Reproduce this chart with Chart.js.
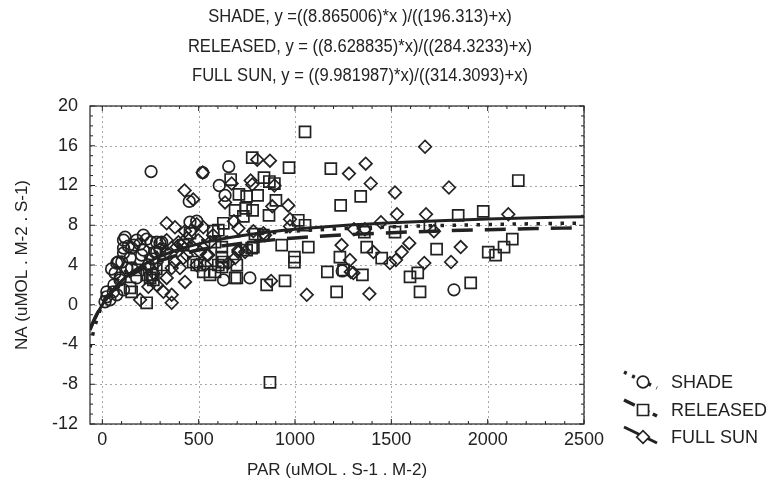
<!DOCTYPE html>
<html>
<head>
<meta charset="utf-8">
<script src="https://cdn.jsdelivr.net/npm/chart.js@4"></script>
<style>
html,body{margin:0;padding:0;background:#fff;}
#c{display:block;}
</style>
</head>
<body>
<canvas id="c" width="768" height="485"></canvas>
<script>
// ---- data ----
const titleLines = [
  'SHADE, y =((8.865006)*x )/((196.313)+x)',
  'RELEASED, y = ((8.628835)*x)/((284.3233)+x)',
  'FULL SUN, y = ((9.981987)*x)/((314.3093)+x)'
];
const xAxisTitle = 'PAR (uMOL . S-1 . M-2)';
const yAxisTitle = 'NA (uMOL . M-2 . S-1)';
const seriesNames = ['SHADE', 'RELEASED', 'FULL SUN'];
const xTicks = [0, 500, 1000, 1500, 2000, 2500];
const yTicks = [-12, -8, -4, 0, 4, 8, 12, 16, 20];

const shadeX = [253,521,656,607,451,637,766,629,1245,1825,110,178,213,253,282,299,118,490,75,144,152,110,213,83,152,92,178,204,239,23,40,14,57,75,110,273,299,23,66,92,127,101,308,282,110,455,165,195,135,60,48,230,260];
const shadeY = [13.4,13.3,13.9,12.0,10.4,11.0,2.7,2.5,3.4,1.5,6.5,6.5,7.0,6.3,6.3,6.2,6.8,8.4,4.2,4.7,5.7,5.2,5.5,4.3,3.7,2.7,2.7,5.0,4.0,0.8,0.5,0.3,1.3,1.0,1.5,5.3,5.5,1.3,3.2,2.5,3.7,4.3,6.3,5.3,5.7,8.3,6.0,6.1,5.9,2.0,3.6,6.6,4.6];

const releasedX = [1052,778,969,1186,1341,1237,666,839,867,893,709,749,806,901,689,744,780,865,732,628,1017,1052,792,585,620,931,1069,775,997,997,620,620,698,689,853,948,1168,1350,1216,1233,1372,1360,2159,1847,1977,1519,1700,1450,1735,1597,1637,1649,1912,2003,2041,2085,2128,870,1252,152,230,248,256,317,490,524,585,602,230,265,144,602,576,472,507,628,559,698,749,784,836,185,280,420,455];
const releasedY = [17.4,14.8,13.8,13.7,10.9,10.0,12.6,12.8,12.4,12.2,11.1,10.9,11.0,10.5,9.5,9.7,9.5,9.0,8.9,8.2,8.5,8.0,7.1,6.3,5.8,6.0,5.8,5.7,4.8,4.3,4.8,3.8,4.0,2.7,2.0,2.4,3.3,3.0,1.3,4.8,5.8,7.3,12.5,9.0,9.4,7.3,7.9,4.7,5.6,2.8,3.2,1.3,2.2,5.3,5.0,5.8,6.6,-7.8,3.5,1.3,0.2,2.7,3.0,4.0,4.0,3.3,3.3,4.0,3.0,2.5,1.7,7.5,7.4,4.3,4.0,4.3,3.0,2.7,5.5,5.8,7.0,3.5,3.6,6.0,7.2];

const fullSunX = [804,870,1280,1367,1393,427,472,521,671,770,778,893,637,882,965,683,706,974,844,706,741,689,654,876,1061,1242,1285,1303,1386,1306,1363,1446,1407,1493,1524,1554,1593,1675,1519,1799,1529,1680,2107,1721,1860,1810,1671,334,377,429,490,524,464,334,395,438,498,559,196,239,282,317,360,360,334,360,403,429,377,438,490,542,533,282,334,386,420,507,550,706,784,836,974,1290,300,265,410,575];
const fullSunY = [14.6,14.5,13.2,14.2,12.2,11.5,10.6,13.3,12.2,12.5,12.1,12.0,10.3,9.9,10.0,8.4,7.7,8.6,7.0,5.3,5.3,4.7,4.2,2.4,1.0,6.0,4.5,3.2,1.1,7.6,7.6,8.3,5.3,4.2,4.5,5.3,6.2,15.9,11.3,11.8,9.1,9.1,9.1,7.4,5.8,4.3,4.2,8.2,7.8,7.4,8.1,7.8,7.5,6.5,6.3,6.7,6.5,6.3,0.5,1.8,2.0,1.3,1.0,0.2,2.7,3.7,3.7,2.3,4.3,5.0,4.0,5.0,4.0,4.3,5.3,5.8,4.7,5.3,5.0,5.5,7.4,7.2,7.9,3.3,5.6,3.2,6.0,7.0];

// fitted curves, values read at these PAR positions
const curveX = [-64,-50,-40,-30,-20,-10,0,10,25,50,75,100,150,200,250,300,400,500,600,800,1000,1250,1500,1750,2000,2250,2500];
const shadeFit = [-4.288,-3.030,-2.269,-1.599,-1.006,-0.476,0,0.430,1.001,1.800,2.451,2.992,3.840,4.474,4.966,5.359,5.947,6.366,6.680,7.118,7.410,7.662,7.839,7.971,8.073,8.154,8.220];
const releasedFit = [-2.507,-1.841,-1.413,-1.018,-0.653,-0.315,0,0.293,0.697,1.291,1.801,2.245,2.980,3.563,4.037,4.430,5.044,5.501,5.855,6.366,6.719,7.030,7.254,7.423,7.555,7.661,7.748];
const fullSunFit = [-2.552,-1.888,-1.456,-1.053,-0.678,-0.328,0,0.308,0.735,1.370,1.923,2.409,3.225,3.882,4.422,4.875,5.590,6.129,6.551,7.166,7.595,7.976,8.253,8.462,8.626,8.758,8.867];

const INK = '#222';
const FONT = "'Liberation Sans', Arial, sans-serif";
const pts = (xs, ys) => xs.map((x, i) => ({x, y: ys[i]}));

const markerStyles = [
  {pointStyle: 'circle', pointRadius: 5.8},
  {pointStyle: 'rect', pointRadius: 7.8},
  {pointStyle: 'rectRot', pointRadius: 6.3}
];
const lineStyles = [
  {borderDash: [3.5, 8.5], borderWidth: 3.5},
  {borderDash: [21, 12], borderWidth: 3.5},
  {borderDash: [], borderWidth: 3}
];

function scatterSet(data, k) {
  return {
    type: 'scatter', data, order: 2,
    pointStyle: markerStyles[k].pointStyle,
    pointRadius: markerStyles[k].pointRadius,
    pointHoverRadius: markerStyles[k].pointRadius,
    pointBorderColor: INK, pointBackgroundColor: 'rgba(0,0,0,0)',
    pointBorderWidth: 1.7, showLine: false
  };
}
function curveSet(data, k) {
  return {
    type: 'line', data, order: 1,
    borderColor: INK, borderWidth: lineStyles[k].borderWidth,
    borderDash: lineStyles[k].borderDash, borderCapStyle: 'butt',
    pointRadius: 0, fill: false, cubicInterpolationMode: 'monotone'
  };
}

function condensedText(ctx, text, x, y, sx) {
  ctx.save();
  ctx.translate(x, y);
  ctx.scale(sx, 1);
  ctx.fillText(text, 0, 0);
  ctx.restore();
}

const decor = {
  id: 'decor',
  beforeDatasetsDraw(chart) {
    const {ctx, chartArea: a, scales: {x, y}} = chart;
    ctx.save();
    ctx.strokeStyle = '#a8a8a8';
    ctx.lineWidth = 1;
    ctx.setLineDash([2, 3]);
    xTicks.forEach(v => {
      const px = Math.round(x.getPixelForValue(v)) + 0.5;
      ctx.beginPath(); ctx.moveTo(px, a.top); ctx.lineTo(px, a.bottom); ctx.stroke();
    });
    yTicks.forEach(v => {
      const py = Math.round(y.getPixelForValue(v)) + 0.5;
      ctx.beginPath(); ctx.moveTo(a.left, py); ctx.lineTo(a.right, py); ctx.stroke();
    });
    ctx.restore();
  },
  afterDatasetsDraw(chart) {
    const {ctx, chartArea: a, scales: {x, y}} = chart;
    ctx.save();
    ctx.strokeStyle = INK;
    ctx.lineWidth = 1.2;
    ctx.strokeRect(a.left, a.top, a.right - a.left, a.bottom - a.top);
    ctx.lineWidth = 1;
    for (let v = 0; v <= 2500; v += 100) {
      const px = x.getPixelForValue(v);
      const len = v % 500 === 0 ? 5 : 3;
      ctx.beginPath();
      ctx.moveTo(px, a.bottom); ctx.lineTo(px, a.bottom - len);
      ctx.moveTo(px, a.top); ctx.lineTo(px, a.top + len);
      ctx.stroke();
    }
    for (let v = -12; v <= 20; v += 1) {
      const py = y.getPixelForValue(v);
      const len = v % 4 === 0 ? 5 : 3;
      ctx.beginPath();
      ctx.moveTo(a.left, py); ctx.lineTo(a.left + len, py);
      ctx.moveTo(a.right, py); ctx.lineTo(a.right - len, py);
      ctx.stroke();
    }
    ctx.restore();
  },
  afterDraw(chart) {
    const {ctx, chartArea: a} = chart;
    ctx.save();
    ctx.fillStyle = INK;
    ctx.textBaseline = 'middle';
    ctx.textAlign = 'center';
    ctx.font = '18px ' + FONT;
    const ty = [17, 47, 76];
    titleLines.forEach((t, i) => condensedText(ctx, t, 360, ty[i], 0.92));
    ctx.font = '17px ' + FONT;
    ctx.fillText(xAxisTitle, (a.left + a.right) / 2, 470);
    ctx.save();
    ctx.translate(22, (a.top + a.bottom) / 2);
    ctx.rotate(-Math.PI / 2);
    ctx.fillText(yAxisTitle, 0, 0);
    ctx.restore();
    // legend
    const rows = [382, 410, 437];
    ctx.textAlign = 'left';
    ctx.font = '18px ' + FONT;
    rows.forEach((ry, k) => {
      ctx.save();
      ctx.strokeStyle = INK;
      ctx.lineWidth = lineStyles[k].borderWidth;
      ctx.setLineDash(k === 0 ? [3, 6] : (k === 1 ? [12, 4] : []));
      ctx.lineCap = 'butt';
      ctx.beginPath();
      ctx.moveTo(624, ry - 10);
      ctx.lineTo(657, ry + 6);
      ctx.stroke();
      ctx.restore();
      ctx.save();
      ctx.fillStyle = '#fff';
      ctx.strokeStyle = INK;
      ctx.lineWidth = 1.7;
      const cx = 643, r = markerStyles[k].pointRadius;
      ctx.beginPath();
      if (k === 0) ctx.arc(cx, ry, r, 0, Math.PI * 2);
      else if (k === 1) { const s = r * Math.SQRT1_2; ctx.rect(cx - s, ry - s, 2 * s, 2 * s); }
      else { ctx.moveTo(cx - r, ry); ctx.lineTo(cx, ry - r); ctx.lineTo(cx + r, ry); ctx.lineTo(cx, ry + r); ctx.closePath(); }
      ctx.fill(); ctx.stroke();
      ctx.restore();
      ctx.fillText(seriesNames[k], 671, ry + 1);
    });
    ctx.restore();
  }
};

new Chart(document.getElementById('c'), {
  type: 'scatter',
  data: {
    datasets: [
      scatterSet(pts(shadeX, shadeY), 0),
      scatterSet(pts(releasedX, releasedY), 1),
      scatterSet(pts(fullSunX, fullSunY), 2),
      curveSet(pts(curveX, shadeFit), 0),
      curveSet(pts(curveX, releasedFit), 1),
      curveSet(pts(curveX, fullSunFit), 2)
    ]
  },
  options: {
    responsive: false,
    animation: false,
    devicePixelRatio: 1,
    layout: {padding: {left: 0, top: 106, right: 184, bottom: 0}},
    plugins: {legend: {display: false}, tooltip: {enabled: false}},
    scales: {
      x: {
        type: 'linear', min: -64, max: 2500,
        afterBuildTicks: s => { s.ticks = xTicks.map(v => ({value: v})); },
        afterFit: s => { s.height = 61; },
        grid: {display: false, drawTicks: false},
        border: {display: false},
        ticks: {color: INK, font: {family: FONT, size: 18}, padding: 5, maxRotation: 0, autoSkip: false,
                callback: v => String(v)}
      },
      y: {
        type: 'linear', min: -12, max: 20,
        afterBuildTicks: s => { s.ticks = yTicks.map(v => ({value: v})); },
        afterFit: s => { s.width = 90; },
        grid: {display: false, drawTicks: false},
        border: {display: false},
        ticks: {color: INK, font: {family: FONT, size: 18}, padding: 12, autoSkip: false,
                callback: v => String(v)}
      }
    }
  },
  plugins: [decor]
});
</script>
</body>
</html>
